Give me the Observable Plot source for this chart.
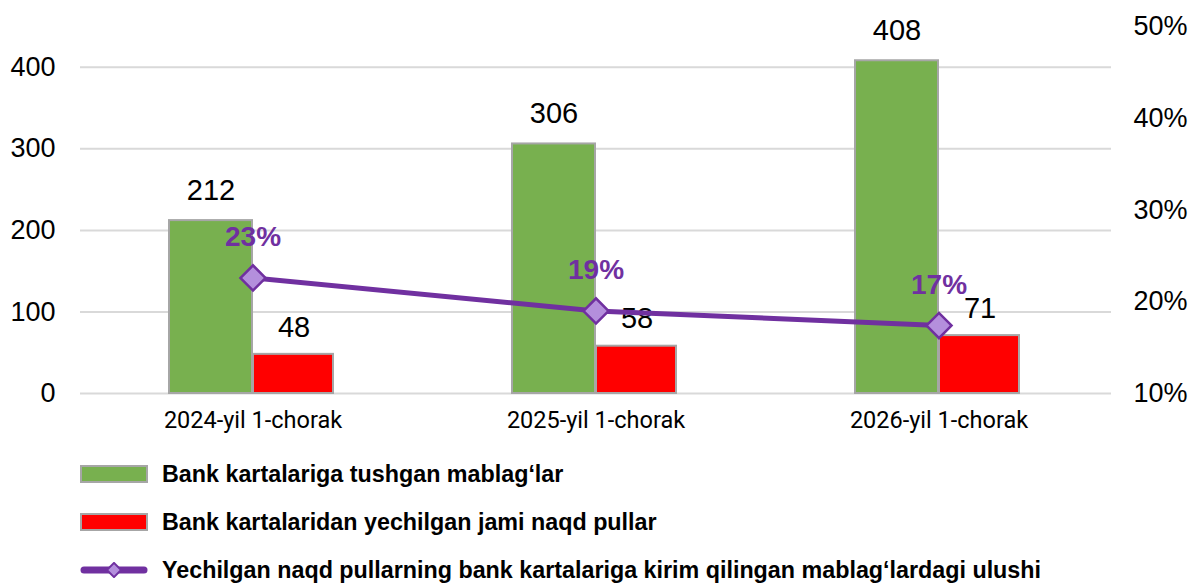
<!DOCTYPE html>
<html>
<head>
<meta charset="utf-8">
<script src="https://cdn.jsdelivr.net/npm/d3@7"></script>
<script src="https://cdn.jsdelivr.net/npm/@observablehq/plot@0.6"></script>
<style>
  html, body { margin: 0; padding: 0; background: #fff; }
  #chart { position: relative; width: 1192px; height: 584px; overflow: hidden; }
  .legend { position: absolute; left: 80px; top: 450px; font-family: "Liberation Sans", Arial, sans-serif; font-weight: bold; font-size: 23.3px; color: #000; }
  .row { display: flex; align-items: center; height: 48px; white-space: nowrap; }
  .sw { width: 64px; height: 14px; border: 2px solid #a6a6a6; margin-right: 14px; flex: none; }
  .ln { width: 68px; height: 16px; margin-right: 14px; flex: none; }
</style>
</head>
<body>
<div id="chart"></div>
<script>
const categories = ["2024-yil 1-chorak", "2025-yil 1-chorak", "2026-yil 1-chorak"];
const inflows = [212, 306, 408];
const withdrawals = [48, 58, 71];
const shares = [22.6, 19.0, 17.4];
const shareLabels = ["23%", "19%", "17%"];
const leftTicks = [0, 100, 200, 300, 400];
const rightTicks = [10, 20, 30, 40, 50];
const seriesNames = [
  "Bank kartalariga tushgan mablag‘lar",
  "Bank kartalaridan yechilgan jami naqd pullar",
  "Yechilgan naqd pullarning bank kartalariga kirim qilingan mablag‘lardagi ulushi"
];

const leftMax = 450;
const rightMin = 10, rightMax = 50;
const shareToY = s => (s - rightMin) / (rightMax - rightMin) * leftMax;

const barsA = categories.map((c, i) => ({cat: c, v: inflows[i]}));
const barsB = categories.map((c, i) => ({cat: c, v: withdrawals[i]}));
const line = categories.map((c, i) => ({cat: c, s: shares[i], y: shareToY(shares[i]), label: shareLabels[i]}));

const green = "#78b04f", red = "#ff0000", purple = "#7030a0", lightPurple = "#b48fdc", edge = "#a6a6a6";
const font = "'Liberation Sans', Arial, sans-serif";

const plot = Plot.plot({
  width: 1192,
  height: 445,
  marginLeft: 80,
  marginRight: 81,
  marginTop: 26,
  marginBottom: 52,
  style: {fontFamily: font, fontSize: "26px", color: "#000", background: "#fff"},
  x: {domain: categories, padding: 0, label: null},
  y: {domain: [0, leftMax], label: null},
  marks: [
    Plot.ruleY(leftTicks, {stroke: "#d9d9d9", strokeWidth: 2}),
    Plot.barY(barsA, {x: "cat", y: "v", fill: green, stroke: edge, strokeWidth: 2, insetLeft: 88, insetRight: 172}),
    Plot.barY(barsB, {x: "cat", y: "v", fill: red, stroke: edge, strokeWidth: 2, insetLeft: 172, insetRight: 91}),
    Plot.text(barsA, {x: "cat", y: "v", text: d => String(d.v), dx: -42, dy: -30, fontSize: 29, fill: "#000"}),
    Plot.text(barsB, {x: "cat", y: "v", text: d => String(d.v), dx: 41, dy: -27, fontSize: 29, fill: "#000"}),
    Plot.line(line, {x: "cat", y: "y", stroke: purple, strokeWidth: 5}),
    Plot.dot(line, {x: "cat", y: "y", symbol: "square", r: 10, rotate: 45, fill: lightPurple, stroke: purple, strokeWidth: 2.5}),
    Plot.text(line, {x: "cat", y: "y", text: "label", dy: -41, fontSize: 28, fontWeight: "bold", fill: purple}),
    Plot.axisY(leftTicks, {anchor: "left", tickSize: 0, tickPadding: 25, fontSize: 27, label: null}),
    Plot.axisY(rightTicks.map(shareToY), {anchor: "right", tickSize: 0, tickPadding: 22, fontSize: 27, label: null, tickFormat: d => Math.round(rightMin + d / leftMax * (rightMax - rightMin)) + "%"}),
    Plot.axisX({tickSize: 0, tickPadding: 18, fontSize: 23.5, fontFamily: "Roboto", label: null})
  ]
});

const chart = document.getElementById("chart");
chart.appendChild(plot);

const legend = document.createElement("div");
legend.className = "legend";
const swatches = [
  `<div class="sw" style="background:${green}"></div>`,
  `<div class="sw" style="background:${red}"></div>`,
  `<svg class="ln" viewBox="0 0 68 16"><line x1="4" y1="8" x2="64" y2="8" stroke="${purple}" stroke-width="7" stroke-linecap="round"/><rect x="29" y="3" width="10" height="10" transform="rotate(45 34 8)" fill="${lightPurple}" stroke="${purple}" stroke-width="2"/></svg>`
];
seriesNames.forEach((name, i) => {
  const row = document.createElement("div");
  row.className = "row";
  row.innerHTML = swatches[i] + `<span>${name}</span>`;
  legend.appendChild(row);
});
chart.appendChild(legend);
</script>
</body>
</html>
